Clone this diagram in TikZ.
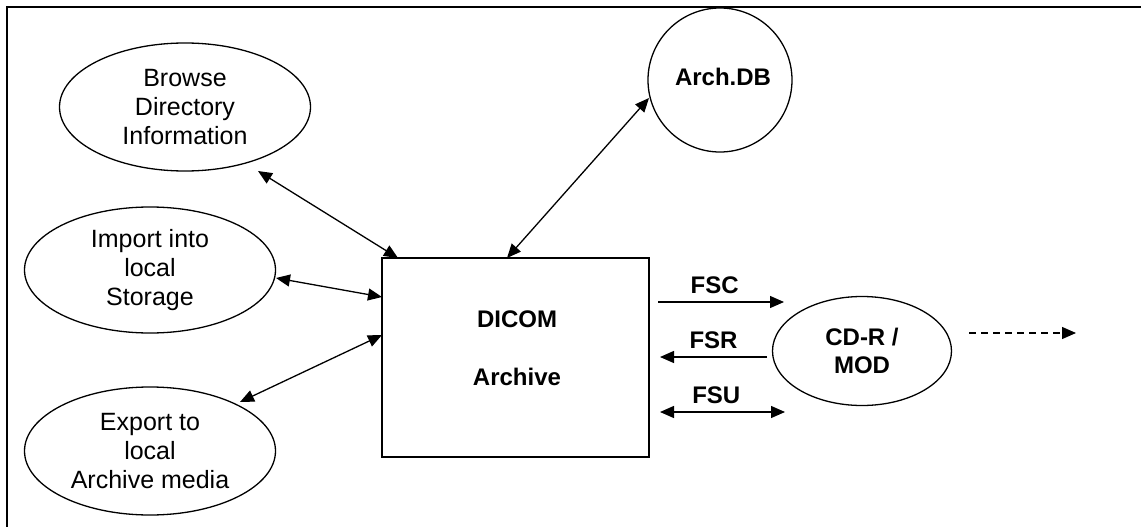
\documentclass[tikz,border=0pt]{standalone}
\usepackage{fontspec}
\setmainfont{Liberation Sans}
\usetikzlibrary{shapes.geometric,arrows.meta,calc}
\begin{document}
\begin{tikzpicture}[x=1pt,y=-1pt,
  every node/.style={inner sep=0pt, outer sep=0pt},
  oval/.style={draw, line width=1.3pt, ellipse, align=center,
    font=\fontsize{25}{29}\selectfont},
  blabel/.style={font=\bfseries\fontsize{24}{29}\selectfont, align=center},
  conn/.style={line width=1.3pt, {Triangle[length=14pt,width=12pt]}-{Triangle[length=14pt,width=12pt]}},
  oneway/.style={line width=1.3pt, -{Triangle[length=14pt,width=12pt]}},
]
\useasboundingbox (0,0) rectangle (1141,527);
% frame
\draw[line width=1.5pt] (1141,7) -- (7,7) -- (7,527);

\node[oval, minimum width=251pt, minimum height=128pt] (browse) at (185,107) {Browse\\Directory\\Information};
\node[oval, minimum width=251pt, minimum height=126pt] (import) at (150,270) {Import into\\local\\Storage};
\node[oval, minimum width=251pt, minimum height=128pt] (export) at (150,451) {Export to\\local\\Archive media};

\node[draw, line width=1.3pt, rectangle, minimum width=267pt, minimum height=199pt] (dicom) at (515.5,357.5) {};
\node[blabel, font=\bfseries\fontsize{24}{58}\selectfont] (dicomtxt) at (517,348) {DICOM\\Archive};

\node[draw, line width=1.3pt, circle, minimum size=144pt] (archdb) at (720,80) {};
\node[blabel] (archtxt) at (723,77) {Arch.DB};

\node[oval, minimum width=179pt, minimum height=109pt, font=\bfseries\fontsize{24}{28}\selectfont] (cdr) at (862,351) {CD-R /\\MOD};

% connectors
\draw[conn] ($(browse.center)+(73,64)$) -- ($(dicom.north west)+(16,0)$);
\draw[conn] ($(import.center)+(126,8)$) -- ($(dicom.north west)+(0,39)$);
\draw[conn] ($(export.center)+(90,-49)$) -- ($(dicom.north west)+(0,77)$);
\draw[conn] ($(dicom.north west)+(125,0)$) -- ($(archdb.center)+(-71,18)$);

\draw[oneway] ($(dicom.north east)+(9,44)$) -- ($(cdr.center)+(-78,-49)$)
  node[pos=0.45, above=8pt, blabel] (fsc) {FSC};
\draw[oneway] ($(cdr.center)+(-95,6)$) -- ($(dicom.north east)+(11,99)$)
  node[pos=0.5, above=8pt, blabel] (fsr) {FSR};
\draw[conn] ($(dicom.north east)+(11,154)$) -- ($(cdr.center)+(-77,61)$)
  node[pos=0.45, above=8pt, blabel] (fsu) {FSU};

\coordinate (out) at (1076,333);
\draw[oneway, dash pattern=on 7pt off 5pt] ($(cdr.center)+(107,-18)$) -- (out);
\end{tikzpicture}
\end{document}
